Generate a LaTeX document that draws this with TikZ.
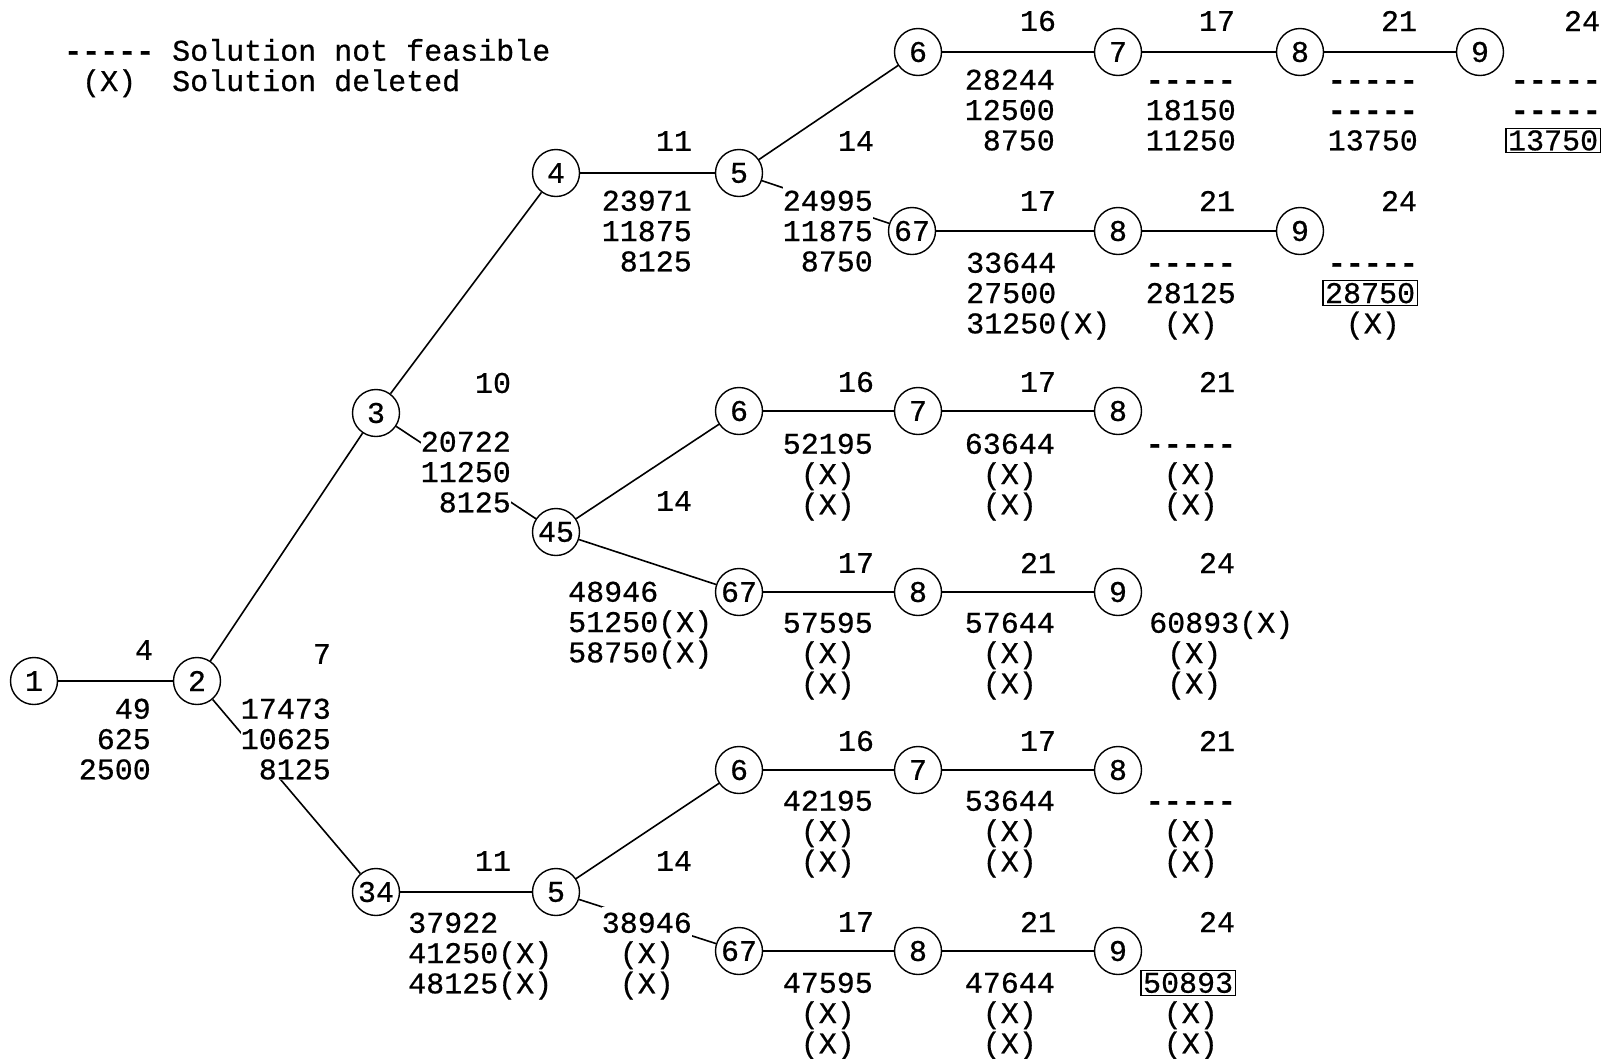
\documentclass[tikz,border=0pt]{standalone}
\usepackage{fontspec}
\newfontfamily\tw[FakeBold=0.6]{Liberation Mono}
\setlength{\fboxsep}{1.5pt}
\setlength{\fboxrule}{1.2pt}
\newcommand\Xd{(X)\phantom{0}}
\newcommand\firstln{\rule{0pt}{26pt}}
\newcommand\nfdash{{\bfseries-{}-{}-{}-{}-}}
\begin{document}
\begin{tikzpicture}[x=1pt,y=-1pt,
  every node/.style={font=\tw\fontsize{30}{30.3}\selectfont, inner sep=0pt},
  state/.style={circle, draw, line width=1.4pt, minimum size=47pt},
  conn/.style={line width=1.6pt},
  vr/.style={anchor=north east, align=right},
  vl/.style={anchor=north west, align=left},
  cut/.style={fill=white}]
\useasboundingbox[fill=white] (0,0) rectangle (1611,1058);

% legend
\node[vl] (legend) at (64,34.5) {\firstln\nfdash\phantom{-}Solution not feasible\\\phantom{-}(X)\phantom{--}Solution deleted};

% states
\node[state] (n1) at (34,681) {1};
\node[state] (n2) at (197,681) {2};
\node[state] (n3) at (376,413) {3};
\node[state] (n4) at (556,173) {4};
\node[state] (n5a) at (739,173) {5};
\node[state] (n6a) at (918,52) {6};
\node[state] (n7a) at (1118,52) {7};
\node[state] (n8a) at (1300,52) {8};
\node[state] (n9a) at (1480,52) {9};
\node[state] (n67a) at (912,231) {67};
\node[state] (n8b) at (1118,231) {8};
\node[state] (n9b) at (1300,231) {9};
\node[state] (n45) at (556,532) {45};
\node[state] (n6c) at (739,411) {6};
\node[state] (n7c) at (918,411) {7};
\node[state] (n8c) at (1118,411) {8};
\node[state] (n67c) at (739,592) {67};
\node[state] (n8d) at (918,592) {8};
\node[state] (n9d) at (1118,592) {9};
\node[state] (n34) at (376,892) {34};
\node[state] (n5e) at (556,892) {5};
\node[state] (n6e) at (739,770) {6};
\node[state] (n7e) at (918,770) {7};
\node[state] (n8e) at (1118,770) {8};
\node[state] (n67f) at (739,951) {67};
\node[state] (n8f) at (918,951) {8};
\node[state] (n9f) at (1118,951) {9};

% connectors
\draw[conn] (n1) -- (n2);
\draw[conn] (n2) -- (n3);
\draw[conn] (n2) -- (n34);
\draw[conn] (n3) -- (n4);
\draw[conn] (n3) -- (n45);
\draw[conn] (n4) -- (n5a);
\draw[conn] (n5a) -- (n6a);
\draw[conn] (n5a) -- (n67a);
\draw[conn] (n6a) -- (n7a);
\draw[conn] (n7a) -- (n8a);
\draw[conn] (n8a) -- (n9a);
\draw[conn] (n67a) -- (n8b);
\draw[conn] (n8b) -- (n9b);
\draw[conn] (n45) -- (n6c);
\draw[conn] (n45) -- (n67c);
\draw[conn] (n6c) -- (n7c);
\draw[conn] (n7c) -- (n8c);
\draw[conn] (n67c) -- (n8d);
\draw[conn] (n8d) -- (n9d);
\draw[conn] (n34) -- (n5e);
\draw[conn] (n5e) -- (n6e);
\draw[conn] (n5e) -- (n67f);
\draw[conn] (n6e) -- (n7e);
\draw[conn] (n7e) -- (n8e);
\draw[conn] (n67f) -- (n8f);
\draw[conn] (n8f) -- (n9f);

% weights
\node (w1) at (144,650) {4};
\node (w2) at (322,654) {7};
\node (w3) at (493,383) {10};
\node (w4) at (674,141) {11};
\node (w5) at (856,141) {14};
\node (w6) at (1038,21) {16};
\node (w7) at (1217,21) {17};
\node (w8) at (1399,21) {21};
\node (w9) at (1582,21) {24};
\node (w10) at (1038,201) {17};
\node (w11) at (1217,201) {21};
\node (w12) at (1399,201) {24};
\node (w13) at (674,501) {14};
\node (w14) at (856,382) {16};
\node (w15) at (1038,382) {17};
\node (w16) at (1217,382) {21};
\node (w17) at (856,563) {17};
\node (w18) at (1038,563) {21};
\node (w19) at (1217,563) {24};
\node (w20) at (493,861) {11};
\node (w21) at (674,861) {14};
\node (w22) at (856,741) {16};
\node (w23) at (1038,741) {17};
\node (w24) at (1217,741) {21};
\node (w25) at (856,922) {17};
\node (w26) at (1038,922) {21};
\node (w27) at (1217,922) {24};

% value blocks
\node[vr] (v12) at (151,692.5) {\firstln 49\\625\\2500};
\node[vr,cut] (v23) at (331,692.5) {\firstln 17473\\10625\\8125};
\node[vr,cut] (v3) at (511,425.5) {\firstln 20722\\11250\\8125};
\node[vr] (v4) at (692,184.5) {\firstln 23971\\11875\\8125};
\node[vr,cut] (v5a) at (873,184.5) {\firstln 24995\\11875\\8750};
\node[vr] (v6a) at (1055,63.5) {\firstln 28244\\12500\\8750};
\node[vr] (v7a) at (1236,63.5) {\firstln\nfdash\\18150\\11250};
\node[vr] (v8a) at (1418,63.5) {\firstln\nfdash\\\nfdash\\13750};
\node[vr] (v9a) at (1601,63.5) {\firstln\nfdash\\\nfdash\\\fbox{13750}};
\node[vl] (v67a) at (966,246.5) {\firstln 33644\\27500\\31250(X)};
\node[vr] (v8b) at (1236,246.5) {\firstln\nfdash\\28125\\\Xd};
\node[vr] (v9b) at (1418,246.5) {\firstln\nfdash\\\fbox{28750}\\\Xd};
\node[vr] (v6c) at (873,427.5) {\firstln 52195\\\Xd\\\Xd};
\node[vr] (v7c) at (1055,427.5) {\firstln 63644\\\Xd\\\Xd};
\node[vr] (v8c) at (1236,427.5) {\firstln\nfdash\\\Xd\\\Xd};
\node[vl] (v45) at (568,575.5) {\firstln 48946\\51250(X)\\58750(X)};
\node[vr] (v67c) at (873,606.5) {\firstln 57595\\\Xd\\\Xd};
\node[vr] (v8d) at (1055,606.5) {\firstln 57644\\\Xd\\\Xd};
\node[vl] (v9d) at (1149,606.5) {\firstln 60893(X)\\\phantom{0}(X)\\\phantom{0}(X)};
\node[vr] (v6e) at (873,784.5) {\firstln 42195\\\Xd\\\Xd};
\node[vr] (v7e) at (1055,784.5) {\firstln 53644\\\Xd\\\Xd};
\node[vr] (v8e) at (1236,784.5) {\firstln\nfdash\\\Xd\\\Xd};
\node[vl] (v34) at (408,906.5) {\firstln 37922\\41250(X)\\48125(X)};
\node[vr,cut] (v5e) at (692,906.5) {\firstln 38946\\\Xd\\\Xd};
\node[vr] (v67f) at (873,966.5) {\firstln 47595\\\Xd\\\Xd};
\node[vr] (v8f) at (1055,966.5) {\firstln 47644\\\Xd\\\Xd};
\node[vr] (v9f) at (1236,966.5) {\firstln\fbox{50893}\\\Xd\\\Xd};
\end{tikzpicture}
\end{document}
